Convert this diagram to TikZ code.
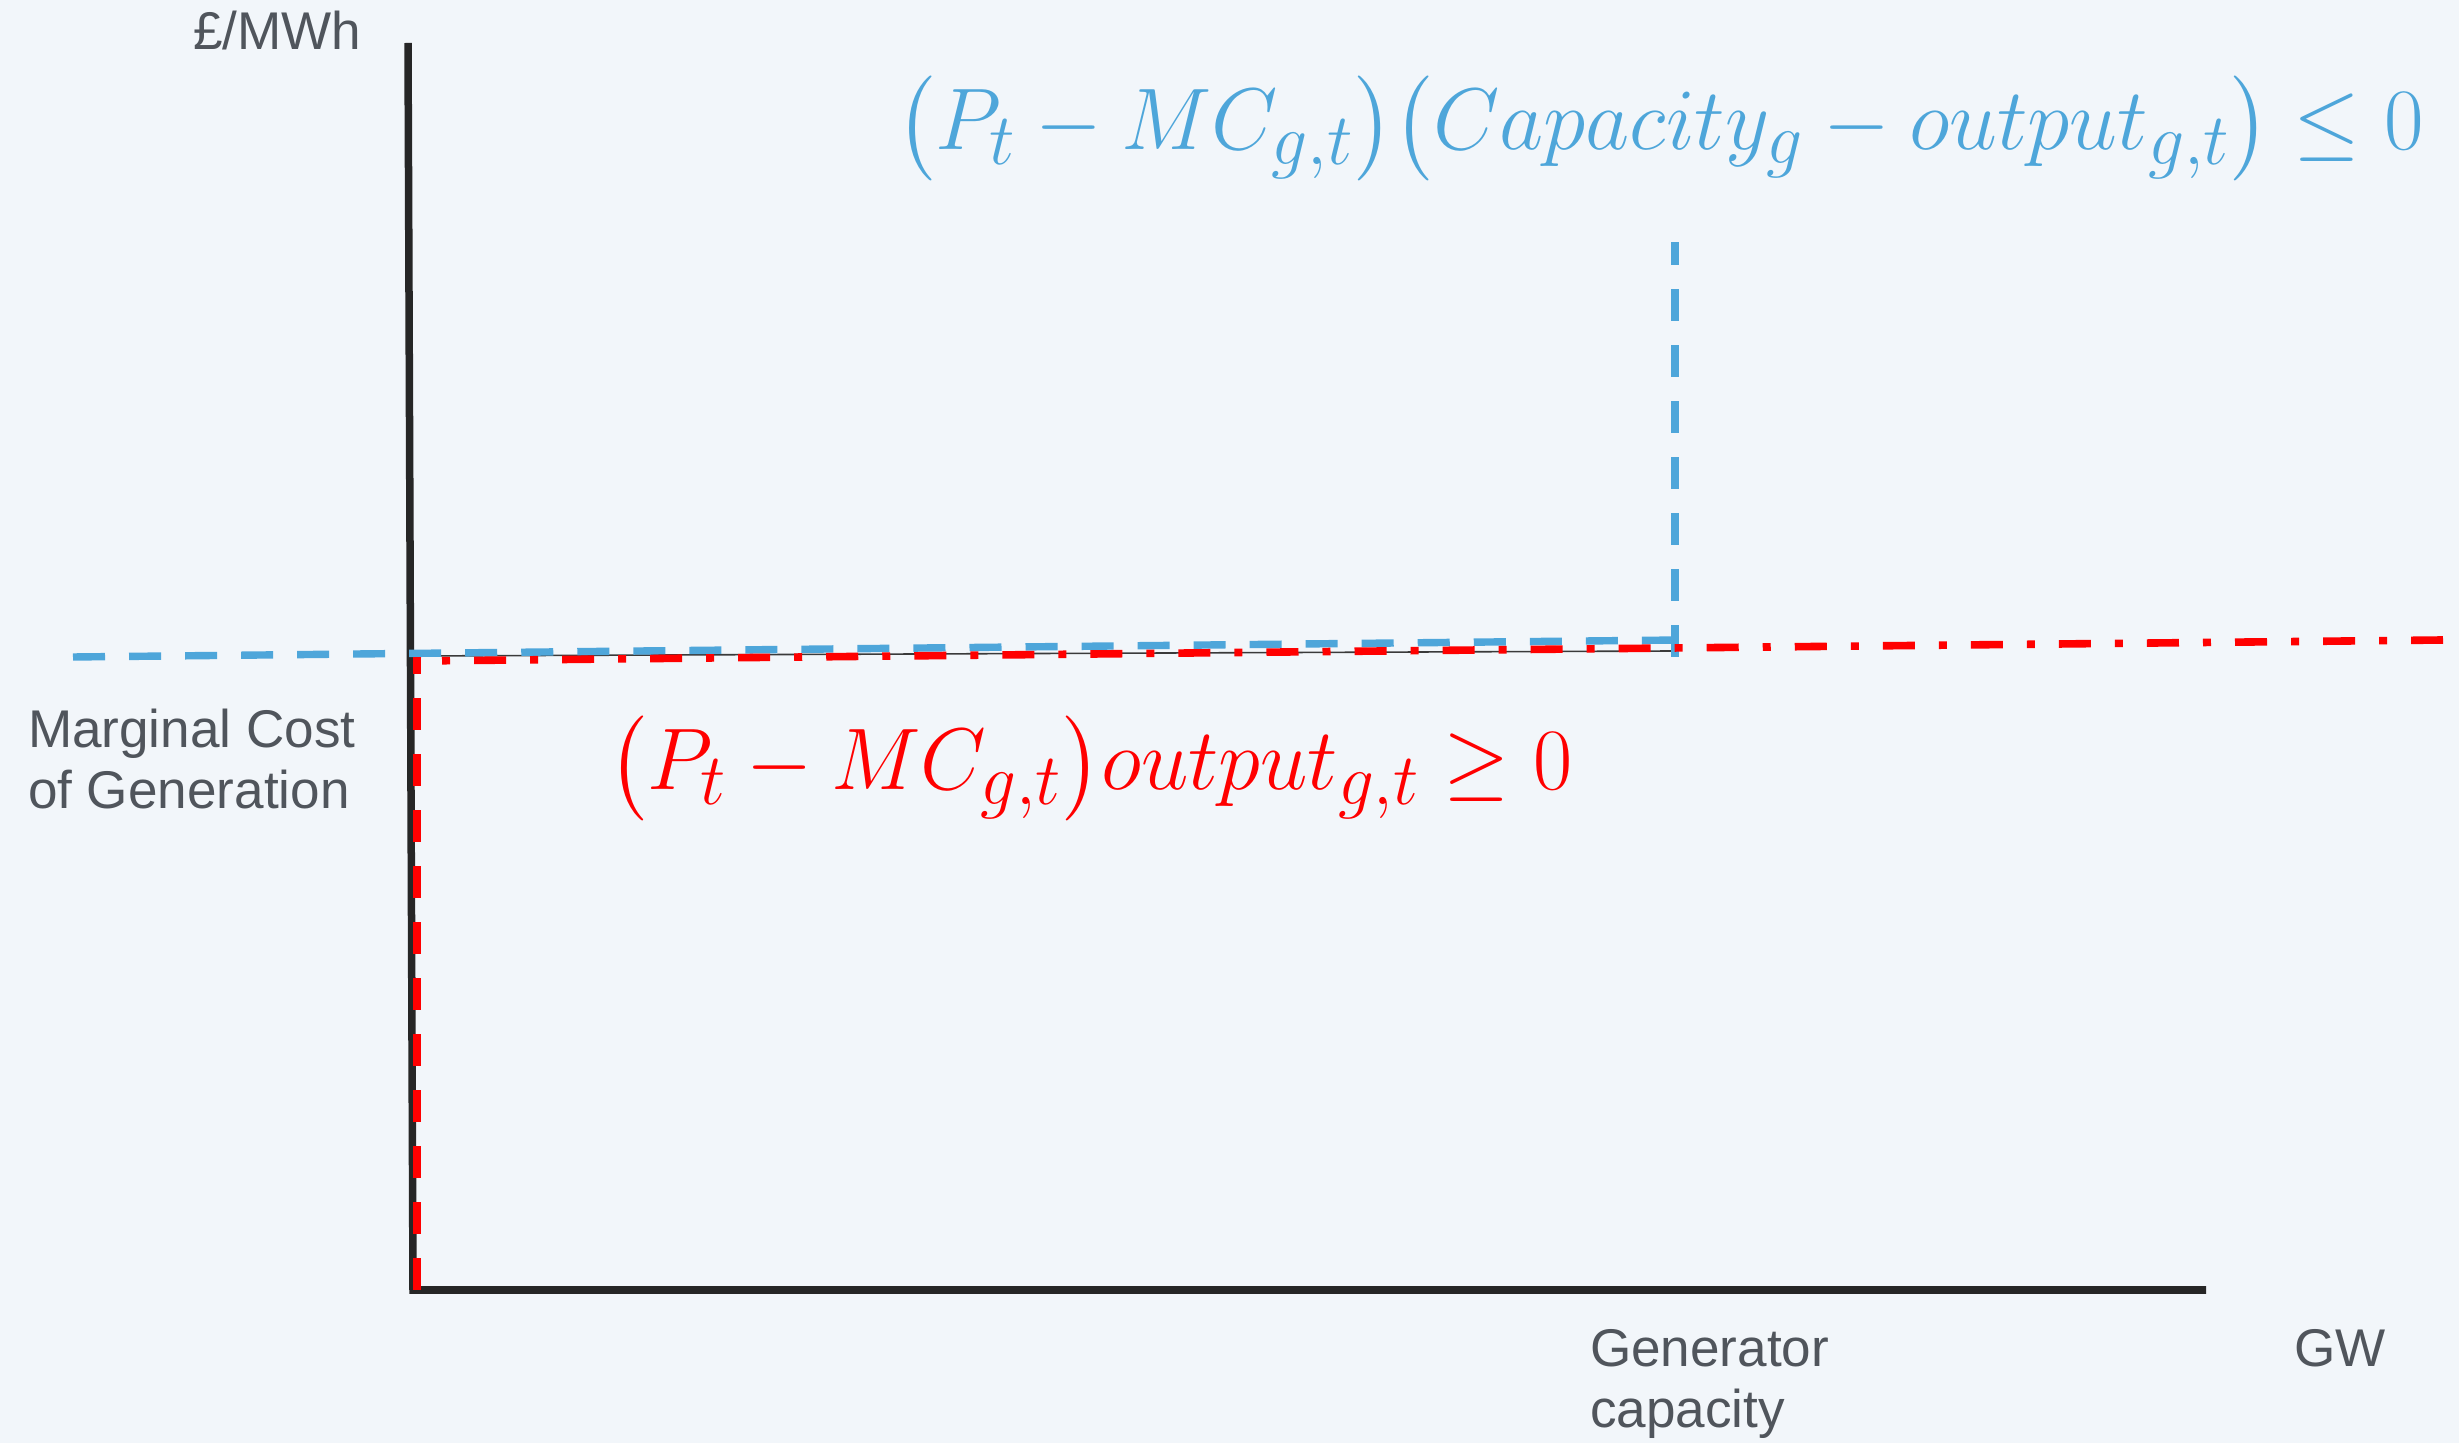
\documentclass[tikz,border=0pt]{standalone}
\usepackage{fontspec}
\usepackage{amsmath}
\usepackage{graphicx}
\setmainfont{Liberation Sans}
\definecolor{bg}{HTML}{F2F6FA}
\definecolor{axisc}{HTML}{262626}
\definecolor{bluec}{HTML}{4EA6DA}
\definecolor{redc}{HTML}{FF0000}
\definecolor{txt}{HTML}{50555C}
\definecolor{thinc}{HTML}{3A3A3A}
\begin{document}
\begin{tikzpicture}[x=0.01cm,y=-0.01cm,
  lbl/.style={anchor=base west,inner sep=0pt,outer sep=0pt,text=txt,font=\fontsize{15.1pt}{18pt}\selectfont},
  eqn/.style={anchor=base west,inner sep=0pt,outer sep=0pt,font=\fontsize{28pt}{34pt}\selectfont},
  axisline/.style={draw=axisc,line width=0.075cm,line join=miter},
  bluedash/.style={draw=bluec,line width=0.074cm,dash pattern=on 0.32cm off 0.24cm},
  reddash/.style={draw=redc,line width=0.076cm,dash pattern=on 0.32cm off 0.24cm},
  reddashdot/.style={draw=redc,line width=0.076cm,dash pattern=on 0.08cm off 0.24cm on 0.32cm off 0.24cm,dash phase=0.64cm},
  thinline/.style={draw=thinc,line width=0.45pt}]
\fill[bg] (0,0) rectangle (2459,1443);
\useasboundingbox (0,0) rectangle (2459,1443);
% coordinates
\coordinate (ytop) at (408,43);
\coordinate (orig) at (413,1290);
\coordinate (xend) at (2206,1290);
\coordinate (mcL) at (411,656);
\coordinate (mcR) at (1672,651);
\coordinate (bL) at (73,657);
\coordinate (bR) at (1679,640);
\coordinate (bvB) at (1675,657);
\coordinate (bvT) at (1675,242);
\coordinate (rvB) at (417,1290);
\coordinate (rvT) at (417,657);
\coordinate (rL) at (418,661);
\coordinate (rR) at (2443,640);
% axes
\draw[axisline] (ytop) -- (orig) -- (xend);
% marginal cost line
\draw[thinline] (mcL) -- (mcR);
% blue constraint
\draw[bluedash] (bL) -- (bR);
\draw[bluedash] (bvB) -- (bvT);
% red constraint
\draw[reddash] (rvB) -- (rvT);
\draw[reddashdot] (rL) -- (rR);
% labels
\node[lbl] (ylab) at (193,50) {£/MWh};
\node[lbl] (mc1) at (28,748) {Marginal Cost};
\node[lbl] (mc2) at (28,809) {of Generation};
\node[lbl] (gc1) at (1590,1367) {Generator};
\node[lbl] (gc2) at (1590,1428) {capacity};
\node[lbl] (xlab) at (2294,1367) {GW};
% equations
\node[eqn,text=bluec] (eqb) at (896,150) {\resizebox{15.27cm}{\height}{$\bigl(P_t-MC_{g,t}\bigr)\bigl(Capacity_g-output_{g,t}\bigr)\leq 0$}};
\node[eqn,text=redc] (eqr) at (608,790) {\resizebox{9.64cm}{\height}{$\bigl(P_t-MC_{g,t}\bigr)output_{g,t}\geq 0$}};
\end{tikzpicture}
\end{document}
